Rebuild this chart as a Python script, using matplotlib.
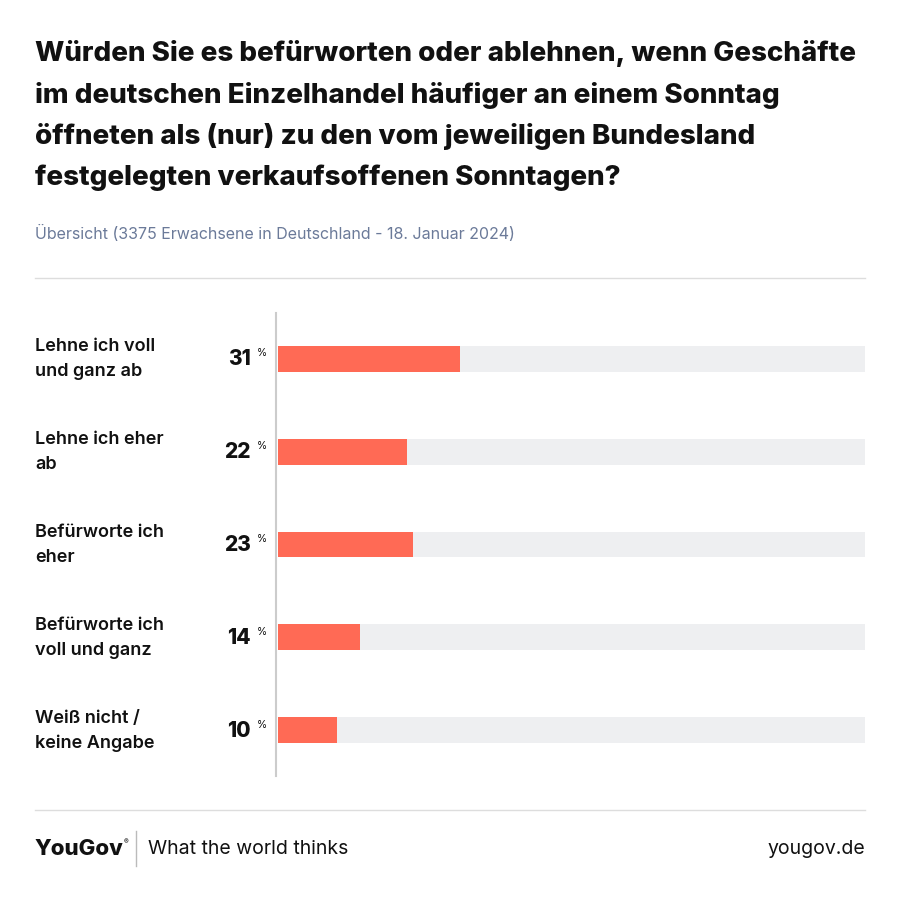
import matplotlib.pyplot as plt
from matplotlib.lines import Line2D

categories = ["Lehne ich voll\nund ganz ab", "Lehne ich eher\nab", "Befürworte ich\neher",
              "Befürworte ich\nvoll und ganz", "Weiß nicht /\nkeine Angabe"]
values = [31, 22, 23, 14, 10]

title = ("Würden Sie es befürworten oder ablehnen, wenn Geschäfte\n"
         "im deutschen Einzelhandel häufiger an einem Sonntag\n"
         "öffneten als (nur) zu den vom jeweiligen Bundesland\n"
         "festgelegten verkaufsoffenen Sonntagen?")
subtitle = "Übersicht (3375 Erwachsene in Deutschland - 18. Januar 2024)"

W, H = 899, 900
fig = plt.figure(figsize=(W / 100, H / 100), dpi=100)
plt.rcParams['font.family'] = ['Inter', 'DejaVu Sans']

def fx(x): return x / W
def fy(y): return 1 - y / H

fig.text(fx(35), fy(40), title, fontsize=20, fontweight='heavy', va='top', ha='left',
         linespacing=1.7, color='#111111')
fig.text(fx(35), fy(233), subtitle, fontsize=11.5, va='center', color='#6b7a99')
fig.add_artist(Line2D([fx(35), fx(865)], [fy(278), fy(278)], color='#dddddd', lw=1))
fig.add_artist(Line2D([fx(35), fx(865)], [fy(810), fy(810)], color='#dddddd', lw=1))

ax = fig.add_axes([fx(278), fy(776), fx(587), (776 - 313) / H])
ypos = list(range(len(values)))
ax.barh(ypos, [100] * len(values), height=0.28, color='#eeeff1', left=0)
ax.barh(ypos, values, height=0.28, color='#ff6a55', left=0)
ax.set_xlim(0, 100)
ax.set_ylim(4.5, -0.5)
ax.axis('off')
fig.add_artist(Line2D([fx(276), fx(276)], [fy(313), fy(776)], color='#cccccc', lw=1.5))

for i, (c, v) in enumerate(zip(categories, values)):
    yc = 359 + i * 93
    fig.text(fx(35), fy(yc), c, fontsize=13, fontweight='semibold', va='center',
             ha='left', linespacing=1.6, color='#111111')
    fig.text(fx(251), fy(yc), str(v), fontsize=15, fontweight='heavy', va='center',
             ha='right', color='#111111')
    fig.text(fx(257), fy(yc - 6), "%", fontsize=7.5, va='center', ha='left',
             color='#111111')

fig.text(fx(35), fy(849), "YouGov", fontsize=16, fontweight='heavy', va='center',
         color='#111111')
fig.text(fx(124), fy(842), "®", fontsize=5, va='center', color='#111111')
fig.add_artist(Line2D([fx(136), fx(136)], [fy(831), fy(866)], color='#bbbbbb', lw=1))
fig.text(fx(148), fy(849), "What the world thinks", fontsize=14, va='center',
         color='#111111')
fig.text(fx(865), fy(849), "yougov.de", fontsize=14, va='center', ha='right',
         color='#111111')

fig.savefig("out.png", dpi=100, facecolor='white')
